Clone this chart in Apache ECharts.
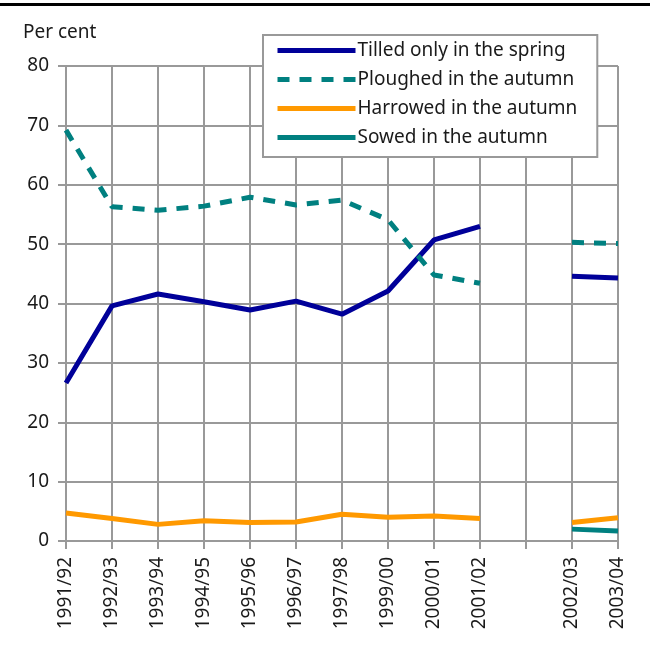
<!DOCTYPE html>
<html>
<head>
<meta charset="utf-8">
<title>Tillage</title>
<script src="https://cdn.jsdelivr.net/npm/echarts@6/dist/echarts.min.js"></script>
<style>
  html, body { margin: 0; height: 100%; background: #fff; }
  #main { width: 650px; height: 651px; }
</style>
</head>
<body>
<div id="main"></div>
<script>
// categories (blank slot between 2001/02 and 2002/03 as in the source)
var years = ['1991/92', '1992/93', '1993/94', '1994/95', '1995/96', '1996/97', '1997/98',
             '1999/00', '2000/01', '2001/02', '', '2002/03', '2003/04'];

var tilledSpring = [26.6, 39.6, 41.6, 40.3, 38.9, 40.4, 38.2, 42.1, 50.7, 53.0, null, 44.6, 44.3];
var ploughedAutumn = [69.2, 56.3, 55.7, 56.4, 57.9, 56.6, 57.4, 54.1, 44.8, 43.4, null, 50.3, 50.1];
var harrowedAutumn = [4.7, 3.8, 2.8, 3.4, 3.1, 3.2, 4.5, 4.0, 4.2, 3.8, null, 3.1, 3.9];
var sowedAutumn = [null, null, null, null, null, null, null, null, null, null, null, 2.0, 1.7];

var names = ['Tilled only in the spring', 'Ploughed in the autumn', 'Harrowed in the autumn', 'Sowed in the autumn'];

var font = 'Noto Sans';
var grey = '#999999';

var chart = echarts.init(document.getElementById('main'));

function line(name, data, color, dash) {
    return {
        name: name,
        type: 'line',
        data: data,
        symbol: 'circle',
        showSymbol: false,
        connectNulls: false,
        animation: false,
        lineStyle: { color: color, width: 5, type: dash || 'solid', cap: 'butt' },
        itemStyle: { color: color }
    };
}

chart.setOption({
    backgroundColor: '#fff',
    textStyle: { fontFamily: font },
    grid: { left: 66, right: 32, top: 66, bottom: 110 },
    graphic: [
        { type: 'rect', shape: { x: 0, y: 3, width: 650, height: 3 }, style: { fill: '#000' } },
        { type: 'text', left: 23, top: 23, style: { text: 'Per cent', font: '19px "Noto Sans"', fill: '#1a1a1a' } }
    ],
    legend: {
        data: names,
        orient: 'vertical',
        left: 263,
        top: 35,
        padding: [6, 20, 10, 12],
        itemGap: 10,
        itemWidth: 78,
        itemHeight: 20,
        backgroundColor: '#fff',
        borderColor: grey,
        borderWidth: 2,
        borderRadius: 0,
        itemStyle: { opacity: 0 },
        lineStyle: { width: 5 },
        textStyle: { fontFamily: font, fontSize: 19, color: '#1a1a1a', padding: [0, 0, 0, -3] }
    },
    xAxis: {
        type: 'category',
        data: years,
        boundaryGap: false,
        axisLine: { lineStyle: { color: grey, width: 2 } },
        axisTick: { show: true, length: 8, interval: 0, lineStyle: { color: grey, width: 2 } },
        splitLine: { show: true, interval: 0, lineStyle: { color: grey, width: 2 } },
        axisLabel: { rotate: 90, interval: 0, fontFamily: font, fontSize: 19, color: '#1a1a1a', margin: 16 }
    },
    yAxis: {
        type: 'value',
        min: 0,
        max: 80,
        interval: 10,
        axisLine: { show: true, lineStyle: { color: grey, width: 2 } },
        axisTick: { show: true, length: 8, lineStyle: { color: grey, width: 2 } },
        splitLine: { show: true, lineStyle: { color: grey, width: 2 } },
        axisLabel: { fontFamily: font, fontSize: 19, color: '#1a1a1a', margin: 17 }
    },
    series: [
        line(names[0], tilledSpring, '#000099'),
        line(names[1], ploughedAutumn, '#008080', [12, 10]),
        line(names[2], harrowedAutumn, '#FF9900'),
        line(names[3], sowedAutumn, '#008080')
    ]
});
</script>
</body>
</html>
